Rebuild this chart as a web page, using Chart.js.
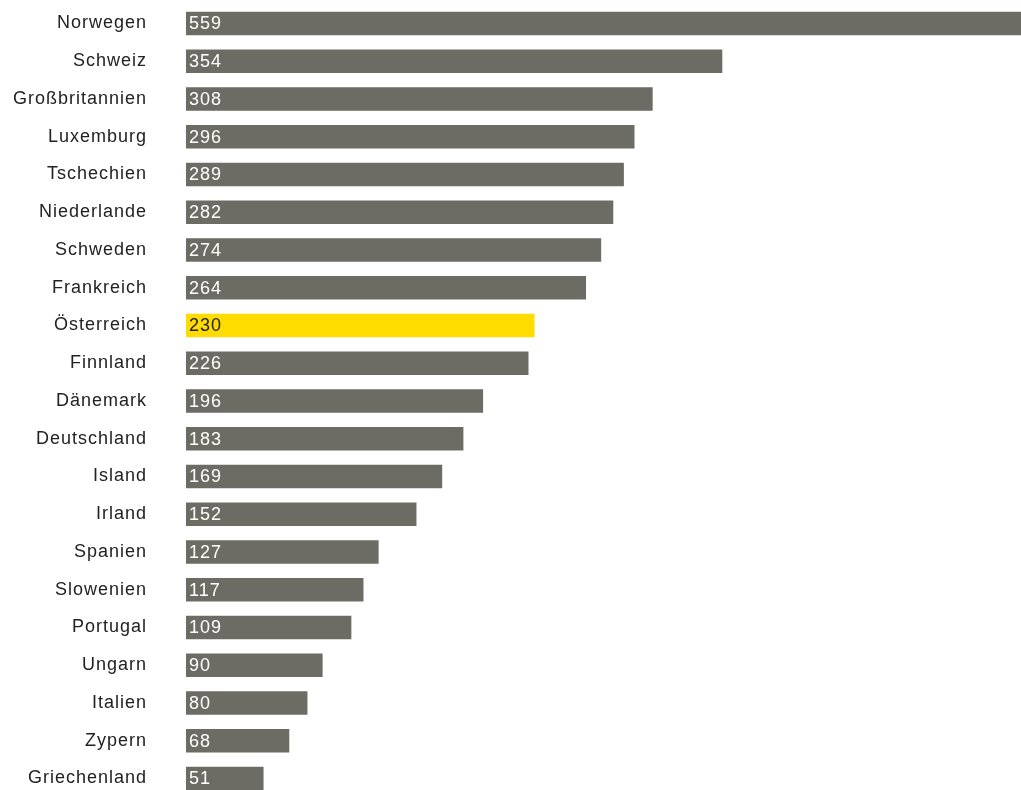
<!DOCTYPE html>
<html>
<head>
<meta charset="utf-8">
<script src="https://cdn.jsdelivr.net/npm/chart.js@4"></script>
<style>
  html, body { margin: 0; padding: 0; background: #fff; overflow: hidden; }
  canvas { display: block; }
</style>
</head>
<body>
<canvas id="chart" width="1021" height="800"></canvas>
<script>
'use strict';

const countries = ['Norwegen', 'Schweiz', 'Großbritannien', 'Luxemburg', 'Tschechien', 'Niederlande',
  'Schweden', 'Frankreich', 'Österreich', 'Finnland', 'Dänemark', 'Deutschland', 'Island', 'Irland',
  'Spanien', 'Slowenien', 'Portugal', 'Ungarn', 'Italien', 'Zypern', 'Griechenland'];
const values = [559, 354, 308, 296, 289, 282, 274, 264, 230, 226, 196, 183, 169, 152, 127, 117, 109, 90, 80, 68, 51];
const highlight = 'Österreich';

const grey = '#6d6c64';
const yellow = '#ffdc00';
const fontFamily = '"Liberation Sans", Arial, Helvetica, sans-serif';

const barColors = countries.map(c => c === highlight ? yellow : grey);

// letter spacing for all canvas text
const spacingPlugin = {
  id: 'spacing',
  beforeDraw(chart) {
    chart.ctx.letterSpacing = '1px';
  }
};

// value labels inside the bars
const valueLabels = {
  id: 'valueLabels',
  afterDatasetsDraw(chart) {
    const ctx = chart.ctx;
    const meta = chart.getDatasetMeta(0);
    ctx.save();
    ctx.letterSpacing = '1px';
    ctx.font = '18px ' + fontFamily;
    ctx.textAlign = 'left';
    ctx.textBaseline = 'middle';
    meta.data.forEach((bar, i) => {
      ctx.fillStyle = countries[i] === highlight ? '#222' : '#fff';
      ctx.fillText(String(values[i]), bar.base + 3, bar.y + 1);
    });
    ctx.restore();
  }
};

const ctx = document.getElementById('chart').getContext('2d');
const chart = new Chart(ctx, {
  type: 'bar',
  data: {
    labels: countries,
    datasets: [{
      data: values,
      backgroundColor: barColors,
      borderWidth: 0,
      barThickness: 23
    }]
  },
  options: {
    indexAxis: 'y',
    responsive: false,
    animation: false,
    events: [],
    layout: { padding: { top: 4.6, bottom: 2.6, left: 0, right: 0 } },
    plugins: {
      legend: { display: false },
      tooltip: { enabled: false }
    },
    scales: {
      x: {
        min: 0,
        max: 551.5,
        display: false,
        grid: { display: false }
      },
      y: {
        grid: { display: false, drawTicks: false },
        border: { display: false },
        afterFit(scale) {
          scale.width = 186;
          scale.paddingTop = 0;
          scale.paddingBottom = 0;
        },
        ticks: {
          color: '#222',
          padding: 39,
          font: { family: fontFamily, size: 18 }
        }
      }
    }
  },
  plugins: [spacingPlugin, valueLabels]
});
</script>
</body>
</html>
